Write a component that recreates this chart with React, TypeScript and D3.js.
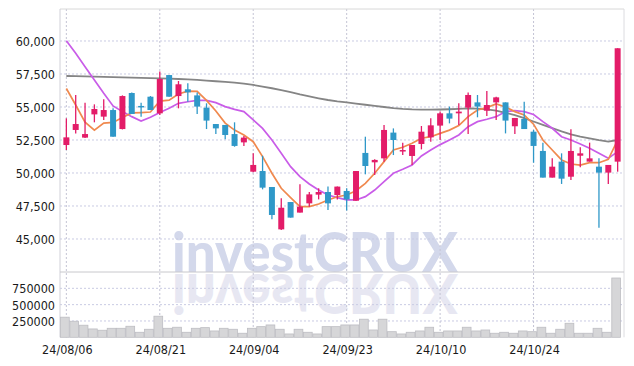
import React from "react";
import * as d3 from "d3";

const dates = [
  "24/08/06", "24/08/07", "24/08/08", "24/08/09", "24/08/12", "24/08/13", "24/08/14", "24/08/16", "24/08/19", "24/08/20",
  "24/08/21", "24/08/22", "24/08/23", "24/08/26", "24/08/27", "24/08/28", "24/08/29", "24/08/30", "24/09/02", "24/09/03",
  "24/09/04", "24/09/05", "24/09/06", "24/09/09", "24/09/10", "24/09/11", "24/09/12", "24/09/13", "24/09/19", "24/09/20",
  "24/09/23", "24/09/24", "24/09/25", "24/09/26", "24/09/27", "24/09/30", "24/10/02", "24/10/04", "24/10/07", "24/10/08",
  "24/10/10", "24/10/11", "24/10/14", "24/10/15", "24/10/16", "24/10/17", "24/10/18", "24/10/21", "24/10/22", "24/10/23",
  "24/10/24", "24/10/25", "24/10/28", "24/10/29", "24/10/30", "24/10/31", "24/11/01", "24/11/04", "24/11/05", "24/11/06",
];

const open = [
  52120, 53260, 52680, 54440, 54270, 54770, 53330, 56060, 55080, 55780,
  54520, 57420, 55830, 56340, 55880, 54950, 53710, 53640, 52950, 52320,
  50100, 50150, 48940, 45730, 47800, 47000, 47700, 48360, 48560, 48330,
  48640, 47900, 51520, 50810, 51110, 53060, 51640, 51290, 52200, 52700,
  53590, 54520, 54520, 54950, 55350, 54720, 55350, 55350, 53540, 54090,
  53130, 51670, 49650, 50860, 49720, 51310, 50860, 50480, 50030, 50860,
];
const high = [
  54140, 55900, 55330, 55200, 55580, 54900, 55880, 56100, 55330, 55830,
  57680, 57420, 56970, 56790, 56090, 55280, 53710, 53640, 53840, 52800,
  51490, 51310, 48940, 48080, 47800, 49140, 48560, 48840, 48970, 48970,
  48840, 50150, 52750, 51040, 53640, 53380, 52300, 52120, 53560, 54140,
  54650, 55030, 55280, 56090, 55910, 56210, 55780, 55350, 54170, 55400,
  53260, 52300, 51110, 51490, 53310, 51950, 52300, 51110, 50610, 59450,
];
const low = [
  51740, 53000, 52650, 53840, 54020, 52750, 53300, 54470, 54270, 54770,
  54390, 55780, 54900, 55400, 54470, 53330, 52950, 52550, 51990, 52050,
  50050, 48760, 46490, 45680, 46620, 47000, 47450, 48000, 47200, 48000,
  47150, 47900, 49900, 49850, 50860, 51360, 51360, 50610, 51790, 52370,
  52500, 53760, 53640, 52950, 54220, 54320, 54020, 53000, 52950, 53330,
  50780, 49650, 49650, 49170, 49470, 50430, 50860, 45860, 49170, 50100,
];
const close = [
  52700, 53710, 52950, 54850, 54770, 52750, 55830, 54470, 55000, 54770,
  57120, 55780, 56720, 56110, 55030, 53970, 53380, 52880, 52050, 52680,
  50610, 48890, 46820, 47370, 46620, 47450, 48380, 48560, 47700, 48970,
  48000, 50150, 50530, 50990, 53260, 52500, 51740, 52120, 53130, 53610,
  54520, 54120, 54650, 55910, 55030, 55150, 55730, 53970, 54170, 53330,
  52050, 49650, 50480, 49570, 51670, 51490, 51110, 50030, 50610, 59450,
];
const volume = [
  308000, 246000, 185000, 128000, 108000, 138000, 138000, 169000, 77000, 123000,
  323000, 138000, 154000, 77000, 138000, 148000, 97000, 138000, 123000, 62000,
  138000, 163000, 189000, 123000, 51000, 123000, 77000, 51000, 163000, 163000,
  189000, 189000, 277000, 112000, 277000, 86000, 51000, 77000, 97000, 154000,
  77000, 97000, 97000, 154000, 97000, 112000, 62000, 77000, 62000, 97000,
  86000, 154000, 62000, 123000, 215000, 62000, 62000, 138000, 77000, 908000,
];

// moving averages as drawn (5 / 20 / 60 day)
const ma5 = [
  56400, 55150, 53850, 53250, 53780, 53830, 54200, 54550, 54580, 54620,
  55450, 55520, 55980, 56200, 56180, 55500, 54700, 53780, 53250, 52880,
  52370, 51240, 49980, 48840, 48130, 47450, 47450, 47650, 47950, 48200,
  48330, 48660, 49220, 49980, 50860, 51740, 51950, 52250, 52630, 52750,
  53000, 53250, 53590, 54270, 54770, 54950, 55230, 55000, 54650, 54390,
  53700, 52500, 51740, 50990, 50680, 50600, 50780, 50780, 51040, 52500,
];
const ma20 = [
  60020, 59070, 58050, 57050, 56040, 55080, 54650, 54270, 53940, 54220,
  54580, 54900, 55280, 55400, 55500, 55500, 55330, 55030, 54820, 54650,
  54020, 53380, 52500, 51490, 50480, 49720, 49170, 48710, 48330, 48130,
  47960, 47960, 48210, 48710, 49340, 49980, 50280, 50610, 51290, 51740,
  52150, 52500, 52880, 53510, 53890, 54070, 54270, 54650, 54720, 54650,
  54430, 53890, 53390, 52750, 52500, 52200, 51870, 51490, 51110, 51620,
];
const ma60 = [
  57350, 57340, 57320, 57300, 57280, 57270, 57250, 57230, 57210, 57190,
  57170, 57150, 57120, 57090, 57050, 57000, 56950, 56900, 56850, 56770,
  56670, 56550, 56420, 56280, 56120, 55950, 55800, 55660, 55530, 55430,
  55350, 55260, 55170, 55080, 55000, 54920, 54860, 54820, 54800, 54800,
  54810, 54830, 54860, 54890, 54880, 54820, 54720, 54560, 54380, 54160,
  53900, 53650, 53400, 53150, 52930, 52760, 52620, 52490, 52380, 52500,
];

const priceTicks = [45000, 47500, 50000, 52500, 55000, 57500, 60000];
const volumeTicks = [250000, 500000, 750000];
const labelEvery = 10;

const W = 634;
const H = 366;
const left = 60;
const right = 624;
const top = 9;
const split = 272;
const bottom = 337.3;

const UP = "#e31c68";
const DOWN = "#2f98c8";
const labelFont = "'DejaVu Sans Condensed', 'DejaVu Sans', sans-serif";
const markFont = "Lato, 'Liberation Sans', Arial, sans-serif";

export default function App() {
  const x = d3.scaleBand<number>().domain(d3.range(dates.length)).range([left, right]).padding(0.36);
  const cx = (i: number) => (x(i) as number) + x.bandwidth() / 2;
  const step = x.step();
  const y = d3.scaleLinear().domain([42500, 62424]).range([split, top]);
  const yv = d3.scaleLinear().domain([0, 1000000]).range([bottom, split]);

  const lineOf = (vals: number[]) =>
    d3.line<number>().x((_, i) => cx(i)).y((v) => y(v))(vals) || "";

  const fmt = d3.format(",");
  const labelIdx = d3.range(0, dates.length, labelEvery);

  return (
    <svg width={W} height={H} style={{ position: "absolute", left: 0, top: 0, background: "#fff" }}>
      <defs>
        <clipPath id="volClip">
          <rect x={left} y={split + 1} width={right - left} height={bottom - split} />
        </clipPath>
      </defs>

      {/* watermark + reflection */}
      <text
        x={172}
        y={split}
        fontFamily={markFont}
        fontWeight={900}
        fontSize={55}
        textLength={286}
        lengthAdjust="spacingAndGlyphs"
        fill="#d3d8eb"
      >
        investCRUX
      </text>
      <g clipPath="url(#volClip)">
        <text
          x={172}
          y={-split - 2}
          transform="scale(1,-1)"
          fontFamily={markFont}
          fontWeight={900}
          fontSize={55}
          textLength={286}
          lengthAdjust="spacingAndGlyphs"
          fill="#e7e7f2"
        >
          investCRUX
        </text>
      </g>

      {/* grid */}
      {priceTicks.map((t) => (
        <line key={"pg" + t} x1={left} x2={right} y1={y(t)} y2={y(t)} stroke="#c9cbe3" strokeDasharray="2,2" />
      ))}
      {volumeTicks.map((t) => (
        <line key={"vg" + t} x1={left} x2={right} y1={yv(t)} y2={yv(t)} stroke="#c9cbe3" strokeDasharray="2,2" />
      ))}
      {labelIdx.map((i) => (
        <line key={"xg" + i} x1={cx(i)} x2={cx(i)} y1={top} y2={bottom} stroke="#c4c4d4" strokeDasharray="2,2" />
      ))}

      {/* frame */}
      <line x1={left} x2={right} y1={top} y2={top} stroke="#d8d8d8" />
      <line x1={left} x2={left} y1={top} y2={bottom} stroke="#d0d0d8" />
      <line x1={right} x2={right} y1={top} y2={bottom} stroke="#dcdce0" />
      <line x1={left} x2={right} y1={split} y2={split} stroke="#c8c8cc" />

      {/* volume */}
      {volume.map((v, i) => (
        <rect
          key={"v" + i}
          x={left + i * step + 0.5}
          y={yv(v)}
          width={step - 0.6}
          height={bottom - yv(v)}
          fill="#d6d6d8"
          stroke="#bdbdc2"
          strokeWidth={0.8}
        />
      ))}

      {/* moving averages */}
      <path d={lineOf(ma60)} fill="none" stroke="#858585" strokeWidth={1.8} />
      <path d={lineOf(ma20)} fill="none" stroke="#c95ce8" strokeWidth={1.7} />
      <path d={lineOf(ma5)} fill="none" stroke="#f0894e" strokeWidth={1.7} />

      {/* candles */}
      {dates.map((_, i) => {
        const up = close[i] >= open[i];
        const c = up ? UP : DOWN;
        const yTop = y(Math.max(open[i], close[i]));
        const yBot = y(Math.min(open[i], close[i]));
        return (
          <g key={"c" + i}>
            <line x1={cx(i)} x2={cx(i)} y1={y(high[i])} y2={y(low[i])} stroke={c} strokeWidth={1.3} />
            <rect x={x(i)} y={yTop} width={x.bandwidth()} height={Math.max(1.5, yBot - yTop)} fill={c} />
          </g>
        );
      })}

      {/* labels */}
      {priceTicks.map((t) => (
        <text key={"pl" + t} x={55} y={y(t) + 5} textAnchor="end" fontFamily={labelFont} fontSize={12.5} fill="#1a1a1a">
          {fmt(t)}
        </text>
      ))}
      {volumeTicks.map((t) => (
        <text key={"vl" + t} x={55} y={yv(t) + 5} textAnchor="end" fontFamily={labelFont} fontSize={12.5} fill="#1a1a1a">
          {t}
        </text>
      ))}
      {labelIdx.map((i) => (
        <text key={"xl" + i} x={cx(i) + 1} y={354} textAnchor="middle" fontFamily={labelFont} fontSize={12.5} fill="#1a1a1a">
          {dates[i]}
        </text>
      ))}
    </svg>
  );
}
